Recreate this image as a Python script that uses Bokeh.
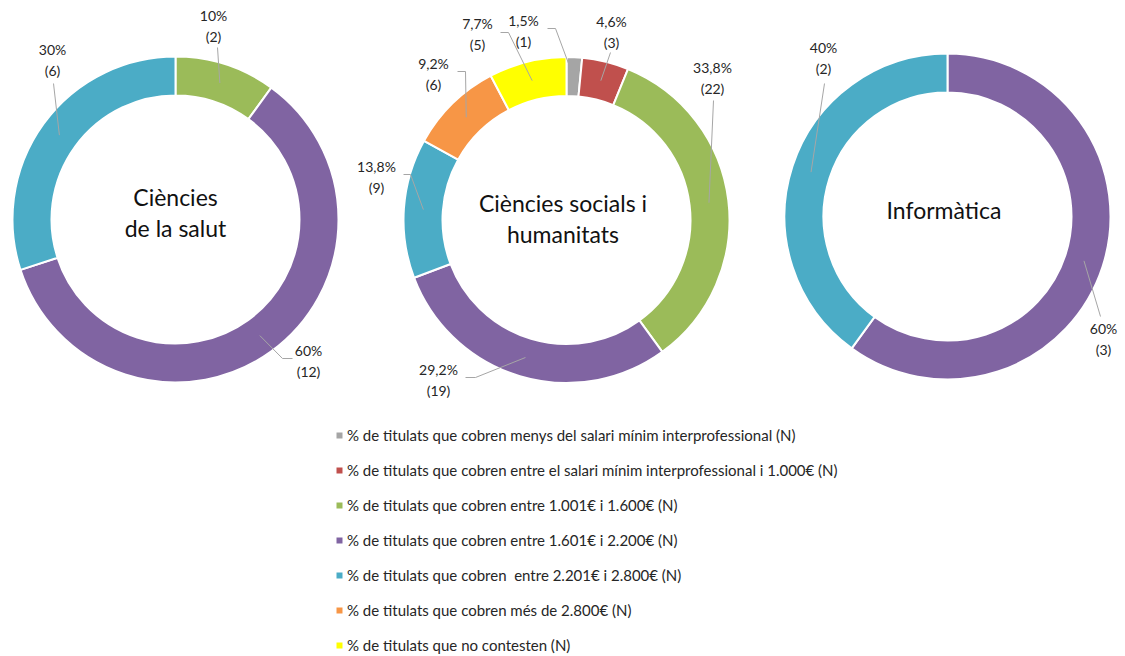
import math
from bokeh.plotting import figure
from bokeh.models import Range1d, Legend, LegendItem, ColumnDataSource
from bokeh.embed import file_html
from bokeh.resources import INLINE
from bokeh.core.properties import value

# ---------------- data ----------------
categories = [
    "% de titulats que cobren menys del salari mínim interprofessional (N)",
    "% de titulats que cobren entre el salari mínim interprofessional i 1.000€ (N)",
    "% de titulats que cobren entre 1.001€ i 1.600€ (N)",
    "% de titulats que cobren entre 1.601€ i 2.200€ (N)",
    "% de titulats que cobren  entre 2.201€ i 2.800€ (N)",
    "% de titulats que cobren més de 2.800€ (N)",
    "% de titulats que no contesten (N)",
]
colors = ["#A5A5A5", "#C0504D", "#9BBB59", "#8064A2", "#4BACC6", "#F79646", "#FFFF00"]

chart_titles = [["Ciències", "de la salut"], ["Ciències socials i", "humanitats"], ["Informàtica"]]
salut = [0, 0, 2, 12, 6, 0, 0]
socials = [1, 3, 22, 19, 9, 6, 5]
informatica = [0, 0, 0, 3, 2, 0, 0]
series = [salut, socials, informatica]

# ---------------- layout (image pixel coordinates) ----------------
W, H = 1125, 656
IMG_H = 656
centers = [(175, 219), (566, 219.5), (947, 216)]
R_IN, R_OUT = 124, 163
R_MID = (R_IN + R_OUT) / 2
title_x = [175, 562.5, 943.5]
title_y = [[196, 227], [202, 233], [209]]

# label block centre and leader-line outer points per chart / category
label_pos = [
    [None, None, (213, 25), (308, 360), (52, 59), None, None],
    [(523, 30), (611, 31), (712, 77), (438, 379), (376, 176), (433, 73), (477, 33)],
    [None, None, None, (1103, 338), (823, 57), None, None],
]
leader_pts = [
    [None, None, [(217, 47)], [(282, 358), (292, 358)], [(53, 83)], None, None],
    [[(555, 28), (547, 28)], [(610, 52)], [(713, 100)], [(475, 377), (465, 377)],
     [(410, 174), (403, 174)], [(465, 71), (457, 71)], [(508, 32), (500, 32)]],
    [None, None, None, [(1100, 316)], [(824, 83)], None, None],
]

def Y(y):
    return IMG_H - y

def fmt_pct(v, total):
    pct = round(v / total * 100, 1)
    if abs(pct - round(pct)) < 1e-9:
        return f"{int(round(pct))}%"
    return f"{pct:.1f}".replace(".", ",") + "%"

p = figure(width=W, height=H, x_range=Range1d(0, W), y_range=Range1d(Y(H), Y(0)),
           output_backend="svg", toolbar_location=None, x_axis_location=None,
           y_axis_location=None, min_border=0, outline_line_color=None,
           background_fill_color="white", border_fill_color="white")
p.grid.visible = False

FONT = "Lato"
TXT = "#262626"

renderers = []
for ci, col in enumerate(colors):
    xs, ys, st, en = [], [], [], []
    for k, vals in enumerate(series):
        total = sum(vals)
        if vals[ci] == 0:
            continue
        before = sum(vals[:ci])
        cx, cy = centers[k]
        xs.append(cx)
        ys.append(Y(cy))
        st.append(math.pi / 2 - 2 * math.pi * before / total)
        en.append(math.pi / 2 - 2 * math.pi * (before + vals[ci]) / total)
    src = ColumnDataSource(dict(x=xs, y=ys, start=st, end=en))
    r = p.annular_wedge(x="x", y="y", inner_radius=R_IN, outer_radius=R_OUT,
                        start_angle="start", end_angle="end", direction="clock",
                        fill_color=col, line_color="white", line_width=2, source=src)
    renderers.append(r)

# leader lines and labels
lx, ly, lt = [], [], []
mx, my = [], []
for k, vals in enumerate(series):
    total = sum(vals)
    cx, cy = centers[k]
    for ci, v in enumerate(vals):
        if v == 0:
            continue
        mid = 2 * math.pi * (sum(vals[:ci]) + v / 2) / total
        ax = cx + R_MID * math.sin(mid)
        ay = cy - R_MID * math.cos(mid)
        pts = [(ax, ay)] + leader_pts[k][ci]
        mx.append([q[0] for q in pts])
        my.append([Y(q[1]) for q in pts])
        px, py = label_pos[k][ci]
        lx += [px, px]
        ly += [Y(py - 10.5), Y(py + 10.5)]
        lt += [fmt_pct(v, total), f"({v})"]

p.multi_line(xs=mx, ys=my, line_color="#A6A6A6", line_width=1)
p.text(x=lx, y=ly, text=lt, text_font=value(FONT), text_font_size="14px",
       text_color=TXT, text_align="center", text_baseline="middle")

# centre titles
tx, ty, tt = [], [], []
for k, lines in enumerate(chart_titles):
    for j, line in enumerate(lines):
        tx.append(title_x[k])
        ty.append(Y(title_y[k][j]))
        tt.append(line)
p.text(x=tx, y=ty, text=tt, text_font=value(FONT), text_font_size="23px",
       text_color="#111111", text_align="center", text_baseline="middle")

legend = Legend(items=[LegendItem(label=categories[i], renderers=[renderers[i]]) for i in range(7)],
                location=(334, 1), orientation="vertical", padding=0, margin=0,
                spacing=15, label_height=20, glyph_width=10, glyph_height=10,
                label_standoff=3, label_text_font=FONT, label_text_font_size="15px",
                label_text_color=TXT, border_line_color=None, background_fill_alpha=0)
p.add_layout(legend, "center")

open("out.html", "w").write(file_html(p, INLINE))
